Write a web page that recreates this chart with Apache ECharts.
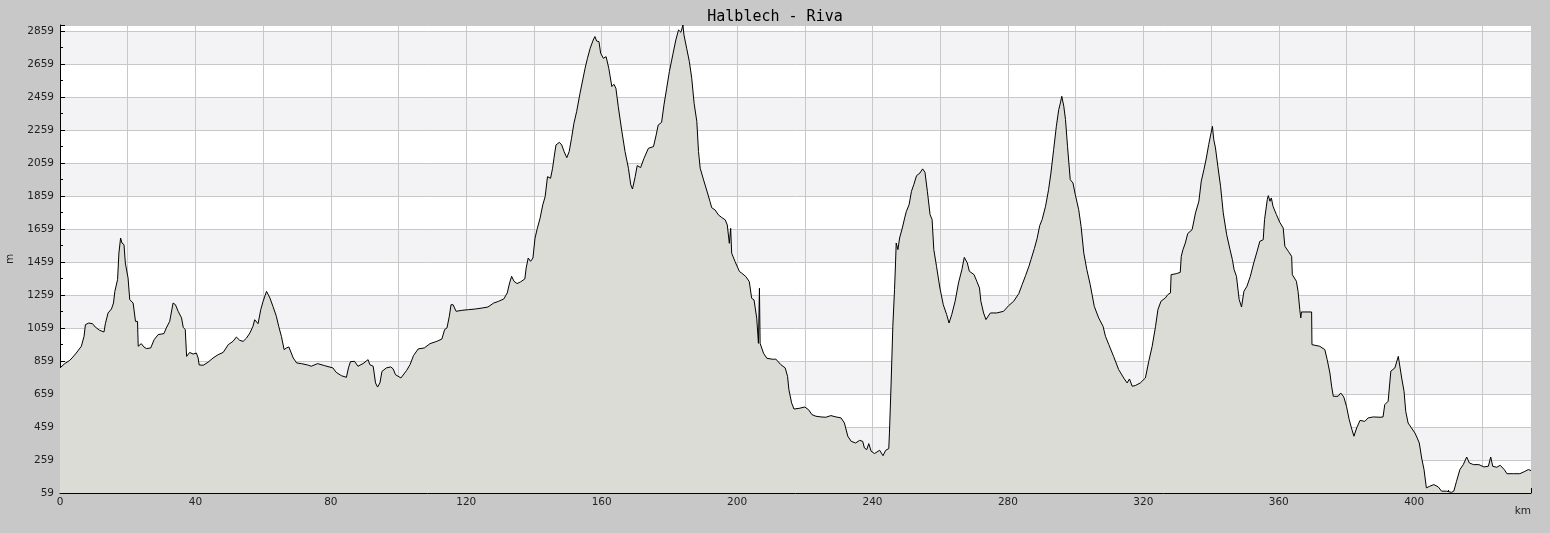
<!DOCTYPE html>
<html>
<head>
<meta charset="utf-8">
<script src="https://cdn.jsdelivr.net/npm/echarts@6/dist/echarts.min.js"></script>
<style>
html,body{margin:0;padding:0;background:#c8c8c8;}
#chart{width:1550px;height:533px;}
</style>
</head>
<body>
<div id="chart"></div>
<script>
const chartTitle = 'Halblech - Riva';
const xName = 'km';
const yName = 'm';

const distanceKm = [
0,1.4,2.9,3.8,4.8,6.3,7.1,7.5,8.5,9.6,10.4,11.7,13.0,13.4,14.2,15.2,15.8,16.2,17.0,17.4,17.9,18.3,18.9,19.3,20.1,20.6,21.6,22.3,22.9,23.1,24.0,24.8,25.5,26.8,27.8,29.0,30.7,31.4,32.4,33.4,34.1,34.9,35.9,36.4,37.0,37.4,38.3,39.3,40.3,40.8,41.1,42.3,43.7,45.2,46.7,48.2,49.7,51.1,52.1,53.1,54.1,55.1,56.1,57.0,57.5,58.5,59.3,60.0,61.0,62.0,62.9,63.9,64.6,65.4,66.2,66.9,67.6,68.1,68.9,69.9,71.3,73.1,
74.2,76.1,78.1,80.6,81.6,83.1,84.6,85.2,85.8,87.0,88.0,89.5,91.0,91.5,92.5,93.2,93.8,94.5,95.1,96.4,97.7,98.4,99.1,100.7,102.4,103.4,104.4,105.8,107.6,109.3,111.3,112.8,113.6,114.3,115.0,115.5,116.1,117.0,118.7,120.7,122.7,124.7,126.4,128.1,129.6,131.1,132.1,132.8,133.4,134.1,135.0,136.0,137.3,137.7,138.3,139.0,139.7,
140.3,141.0,141.8,142.6,143.3,143.7,144.0,144.9,145.5,145.9,146.5,147.5,148.2,148.9,149.7,150.4,151.1,151.8,152.6,153.6,154.4,155.1,155.8,156.6,157.5,158.0,158.5,159.2,159.7,160.5,161.3,162.1,163.0,163.6,164.2,164.9,165.9,166.9,167.9,168.6,169.1,169.9,170.5,171.5,172.5,173.8,175.3,176.1,176.7,177.7,178.4,179.2,180.0,181.0,181.9,182.7,183.4,184.0,184.3,185.1,185.9,186.6,187.3,188.1,188.6,189.1,190.1,191.0,192.0,192.5,193.5,194.5,195.5,196.5,197.1,197.7,198.1,198.4,199.4,200.7,201.4,202.6,203.6,204.3,205.0,205.8,206.3,206.6,206.8,207.3,207.8,208.8,210.7,
211.4,212.9,214.2,214.9,215.3,216.1,216.8,218.3,220.0,221.1,222.1,223.3,224.8,226.2,227.7,229.2,230.7,231.7,232.7,233.7,235.0,236.2,237.1,237.6,238.3,238.9,239.6,240.6,242.1,243.1,243.9,244.8,245.0,245.5,246.0,246.5,246.8,247.0,247.5,248.0,248.8,249.5,250.0,250.8,251.5,252.2,253.0,254.0,254.8,255.5,256.2,257.0,257.6,258.1,258.9,259.9,260.9,261.9,262.6,263.4,264.4,265.4,266.4,267.1,268.0,268.6,270.0,270.8,271.6,272.0,272.8,273.5,274.8,276.7,278.7,280.2,281.7,283.2,284.2,285.2,286.2,286.8,287.8,288.6,289.4,290.1,291.1,292.0,292.7,293.5,294.3,295.0,295.5,295.9,296.5,297.0,297.6,298.4,299.2,299.9,
300.9,301.6,302.4,303.3,304.3,305.5,306.8,308.1,308.8,309.8,311.2,312.7,314.2,315.2,315.9,316.7,317.6,319.1,320.6,321.6,322.6,323.6,324.3,325.2,326.5,327.2,328.0,328.2,329.7,330.9,331.2,331.7,332.4,333.1,334.4,335.4,336.4,337.1,337.9,338.6,339.3,340.0,340.4,340.8,341.3,342.0,342.8,343.6,344.6,345.6,346.3,346.8,347.5,348.3,349.0,349.7,350.6,351.6,352.6,353.6,354.4,355.4,355.8,356.6,356.9,357.4,357.8,358.3,359.3,360.3,361.3,361.8,362.8,363.8,364.0,365.2,365.7,366.2,366.5,366.7,369.7,369.8,372.1,373.6,374.3,375.1,375.6,376.1,377.5,378.3,379.2,
380.0,380.8,381.6,382.2,383.0,384.0,385.4,386.4,387.9,389.9,390.8,391.3,392.3,393.1,394.3,395.3,395.8,396.3,397.0,397.5,398.2,399.2,400.2,400.9,401.5,402.2,402.9,403.6,404.6,405.8,407.1,408.1,409.6,411.0,411.7,412.5,413.5,414.5,415.5,416.3,417.5,419.1,420.6,421.9,422.6,423.2,424.4,425.4,426.6,427.4,429.3,431.2,432.7,433.7,434.5
];

const elevationM = [
817,843,863,883,907,948,1008,1079,1089,1085,1065,1045,1035,1085,1150,1174,1210,1281,1352,1513,1604,1574,1564,1453,1362,1231,1210,1099,1099,948,964,944,934,938,988,1019,1025,1059,1099,1210,1200,1160,1120,1063,1049,887,911,901,907,877,835,833,851,877,897,911,958,978,1004,984,978,998,1029,1069,1109,1085,1170,1221,1281,1241,1190,1130,1069,1008,928,938,944,932,877,847,843,835,
827,843,831,817,790,770,760,817,855,857,827,843,867,837,827,726,701,726,796,817,823,811,776,756,802,837,891,932,938,964,978,992,1049,1059,1130,1200,1200,1160,1166,1170,1174,1180,1186,1210,1221,1235,1271,1332,1372,1342,1328,1338,1356,1423,1483,1463,1483,
1603,1663,1724,1805,1855,1865,1976,1966,2027,2087,2168,2184,2168,2128,2091,2128,2209,2299,2370,2481,2562,2633,2693,2754,2804,2825,2798,2794,2724,2693,2703,2633,2522,2536,2512,2400,2259,2128,2027,1926,1901,1976,2043,2031,2087,2148,2158,2229,2289,2305,2411,2512,2613,2714,2804,2865,2851,2895,2835,2754,2673,2572,2421,2310,2128,2027,1956,1895,1825,1788,1774,1744,1728,1714,1683,1572,1663,1512,1461,1401,1391,1370,1340,1239,1229,1118,966,1300,966,956,906,875,869,
871,837,817,766,685,605,568,572,580,564,534,524,520,518,528,520,514,483,403,372,362,378,372,332,322,358,312,298,318,285,318,328,423,726,1069,1291,1453,1574,1534,1604,1665,1726,1766,1806,1887,1928,1982,1998,2023,2002,1887,1746,1716,1534,1433,1301,1200,1140,1089,1140,1221,1332,1413,1487,1453,1403,1382,1342,1301,1221,1150,1110,1150,1150,1160,1194,1221,1267,1322,1376,1433,1473,1540,1600,1680,1716,1796,1897,1998,2140,2281,2382,2423,2463,2402,2322,2160,1958,1938,1867,
1776,1675,1514,1413,1322,1190,1120,1069,1009,958,887,807,756,726,750,706,710,726,756,857,948,1069,1170,1221,1241,1261,1271,1382,1388,1396,1493,1534,1574,1631,1655,1756,1827,1948,2019,2089,2170,2241,2281,2200,2150,2039,1918,1756,1625,1534,1473,1413,1372,1231,1186,1281,1312,1372,1453,1524,1584,1594,1716,1837,1861,1827,1847,1796,1746,1699,1665,1554,1524,1493,1382,1342,1281,1170,1120,1156,1156,958,948,928,867,786,706,645,645,665,641,
584,504,443,403,453,499,493,514,520,518,520,594,615,797,817,887,897,756,675,554,483,453,423,392,362,271,201,90,100,110,96,70,70,63,70,130,201,231,277,241,231,231,217,221,277,221,215,227,201,176,176,176,190,201,195
];

const profile = distanceKm.map((d, i) => [d, elevationM[i]]);

const labelFont = 'DejaVu Sans';
const chart = echarts.init(document.getElementById('chart'), null, {renderer: 'canvas'});
chart.setOption({
  animation: false,
  backgroundColor: '#c8c8c8',
  title: {
    text: chartTitle,
    left: 'center',
    top: 5,
    textStyle: {fontFamily: 'DejaVu Sans Mono', fontSize: 15, fontWeight: 'normal', color: '#000'}
  },
  grid: {left: 60, right: 19, top: 25, bottom: 40, show: false, containLabel: false, outerBoundsMode: 'none'},
  xAxis: {
    type: 'value',
    min: 0,
    max: 434.5,
    interval: 20,
    name: xName,
    nameLocation: 'end',
    nameGap: 0,
    nameTextStyle: {fontFamily: labelFont, fontSize: 10.5, color: '#222', align: 'right', verticalAlign: 'top', padding: [13, 0, 0, 0]},
    axisLine: {show: true, lineStyle: {color: '#000', width: 1}},
    axisTick: {show: true, inside: true, length: 5, lineStyle: {color: '#000'}},
    minorTick: {show: true, splitNumber: 2, length: 3, lineStyle: {color: '#000'}},
    axisLabel: {
      showMaxLabel: false, margin: 4, fontFamily: labelFont, fontSize: 10.5, color: '#222',
      formatter: v => (Math.round(v) % 40 === 0 ? String(Math.round(v)) : '')
    },
    splitLine: {show: true, lineStyle: {color: '#c8c8c8', width: 1}},
    minorSplitLine: {show: false}
  },
  yAxis: {
    type: 'value',
    min: 59,
    max: 2895,
    interval: 200,
    name: yName,
    nameLocation: 'middle',
    nameGap: 44,
    nameTextStyle: {fontFamily: labelFont, fontSize: 10.5, color: '#222'},
    axisLine: {show: true, lineStyle: {color: '#000', width: 1}},
    axisTick: {show: true, inside: true, length: 5, lineStyle: {color: '#000'}},
    minorTick: {show: true, splitNumber: 2, length: 3, lineStyle: {color: '#000'}},
    axisLabel: {showMaxLabel: false, margin: 6, fontFamily: labelFont, fontSize: 10.5, color: '#222', formatter: v => String(Math.round(v))},
    splitLine: {show: true, lineStyle: {color: '#c8c8c8', width: 1}},
    splitArea: {show: true, areaStyle: {color: ['#ffffff', '#f3f2f5']}}
  },
  series: [{
    type: 'line',
    data: profile,
    symbol: 'none',
    smooth: false,
    lineStyle: {color: '#000', width: 1},
    areaStyle: {color: '#dcdcd7', opacity: 1},
    z: 3
  }]
});
</script>
</body>
</html>
